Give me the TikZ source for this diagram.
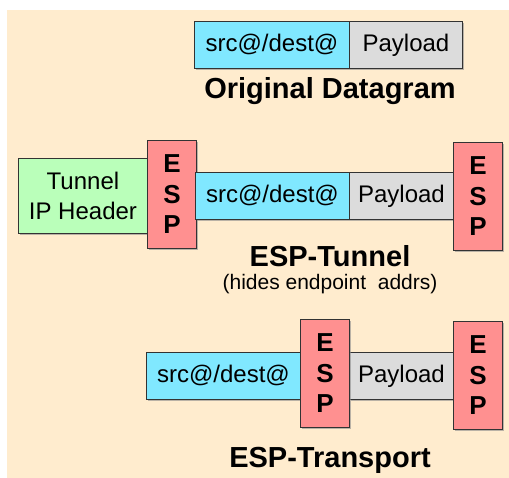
\documentclass[tikz,border=0pt]{standalone}
\usepackage{fontspec}
\setmainfont{Liberation Sans}
\usetikzlibrary{shadows}
\definecolor{bgbeige}{RGB}{255,236,206}
\definecolor{hdrcyan}{RGB}{128,232,255}
\definecolor{paygray}{RGB}{220,220,220}
\definecolor{espred}{RGB}{255,144,144}
\definecolor{tungreen}{RGB}{186,255,186}
\tikzset{
	field/.style={draw=black!80, line width=.9pt, anchor=north west, inner sep=0pt,
		font=\fontsize{24}{30}\selectfont, drop shadow={shadow xshift=1.2pt, shadow yshift=-1.2pt, fill=black!45, opacity=.6}},
	hdr/.style={field, fill=hdrcyan, minimum height=47pt},
	pay/.style={field, fill=paygray, minimum height=47pt},
	esp/.style={field, fill=espred, minimum width=49pt, minimum height=108pt, align=center,
		font=\fontsize{26}{30.5}\selectfont\bfseries},
	title/.style={font=\fontsize{29}{34}\selectfont\bfseries}
}
\begin{document}
	\begin{tikzpicture}[x=1pt, y=-1pt]
		\useasboundingbox (0,0) rectangle (509,478);
		\fill[bgbeige] (7,10) rectangle (509,478);
		%
		% original datagram
		\node[hdr, minimum width=155pt] (osrc) at (194,21) {src@/dest@};
		\node[pay, minimum width=113pt] (opay) at (349,21) {Payload};
		\node[title] (otitle) at (330,91) {Original Datagram};
		%
		% tunnel mode
		\node[field, fill=tungreen, minimum width=129pt, minimum height=75pt, align=center,
			font=\fontsize{24}{30}\selectfont] (tip) at (18,158) {Tunnel\\IP Header};
		\node[esp] (tesp) at (147,140) {E\\S\\P};
		\node[hdr, minimum width=154pt] (tsrc) at (195,172) {src@/dest@};
		\node[pay, minimum width=104pt] (tpay) at (349,172) {Payload};
		\node[esp] (ttrl) at (453,142) {E\\S\\P};
		\node[title] (ttitle) at (330,256) {ESP-Tunnel};
		\node[font=\fontsize{21}{25}\selectfont] (tnote) at (330,284) {(hides endpoint\ \ addrs)};
		%
		% transport mode
		\node[hdr, minimum width=154pt] (rsrc) at (146,352) {src@/dest@};
		\node[pay, minimum width=104pt] (rpay) at (349,352) {Payload};
		\node[esp] (resp) at (300,319) {E\\S\\P};
		\node[esp] (rtrl) at (453,321) {E\\S\\P};
		\node[title] (rtitle) at (330,460) {ESP-Transport};
	\end{tikzpicture}
\end{document}
